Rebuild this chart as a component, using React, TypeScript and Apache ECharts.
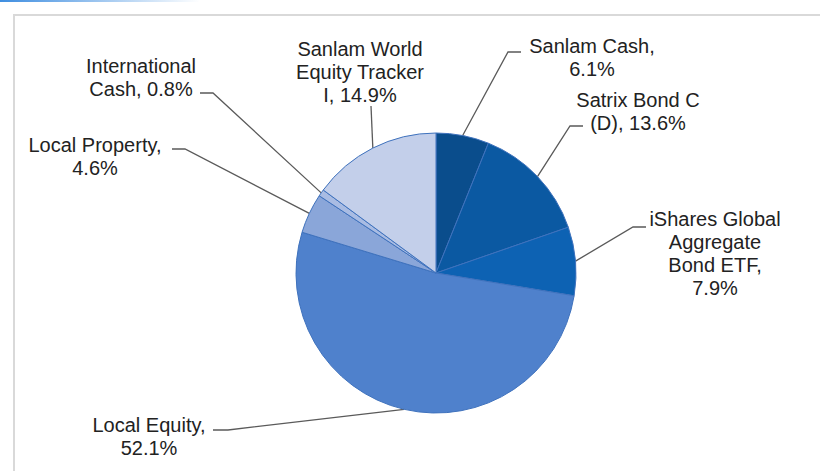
import React, { useEffect, useRef } from "react";
import * as echarts from "echarts";

const categories = [
  "Sanlam Cash",
  "Satrix Bond C (D)",
  "iShares Global Aggregate Bond ETF",
  "Local Equity",
  "Local Property",
  "International Cash",
  "Sanlam World Equity Tracker I",
];
const values = [6.1, 13.6, 7.9, 52.1, 4.6, 0.8, 14.9];
const labelTemplates = [
  "Sanlam Cash,\n{v}%",
  "Satrix Bond C\n(D), {v}%",
  "iShares Global\nAggregate\nBond ETF,\n{v}%",
  "Local Equity,\n{v}%",
  "Local Property,\n{v}%",
  "International\nCash, {v}%",
  "Sanlam World\nEquity Tracker\nI, {v}%",
];
const colors = ["#0a4d8c", "#0b59a2", "#0d62b3", "#4f81cc", "#8aa6d9", "#a9bce3", "#c3cfea"];

// label anchors (center x, top y) and leader knee / end points
const labelPos = [
  { x: 592, y: 34, knee: [508, 52], end: [521, 52] },
  { x: 638, y: 88, knee: [570, 126], end: [583, 126] },
  { x: 715, y: 207, knee: [633, 227], end: [646, 227] },
  { x: 149, y: 413, knee: [228, 430], end: [213, 430] },
  { x: 95, y: 133, knee: [185, 149], end: [172, 149] },
  { x: 141, y: 54, knee: [213, 93], end: [200, 93] },
  { x: 360, y: 37, knee: [371, 106], end: [371, 106] },
];

export default function App() {
  const ref = useRef<HTMLDivElement>(null);
  useEffect(() => {
    if (!ref.current) return;
    const chart = echarts.init(ref.current, null, { renderer: "svg" });
    chart.setOption({
      animation: false,
      backgroundColor: "#ffffff",
      graphic: [
        {
          type: "rect",
          shape: { x: 0, y: 0, width: 200, height: 2 },
          style: {
            fill: new echarts.graphic.LinearGradient(0, 0, 1, 0, [
              { offset: 0, color: "#3f8ee0" },
              { offset: 1, color: "rgba(63,142,224,0)" },
            ]),
          },
          silent: true,
        },
        {
          type: "rect",
          shape: { x: 14, y: 15, width: 900, height: 600 },
          style: { fill: "none", stroke: "#d9d9d9", lineWidth: 2 },
          silent: true,
        },
      ],
      series: [
        {
          type: "pie",
          center: [436, 273],
          radius: 140,
          startAngle: 90,
          clockwise: true,
          avoidLabelOverlap: false,
          data: categories.map((name, i) => ({
            name,
            value: values[i],
            itemStyle: { color: colors[i] },
          })),
          itemStyle: { borderColor: "#3f72bd", borderWidth: 1 },
          label: {
            show: true,
            position: "outside",
            formatter: (p: any) => labelTemplates[p.dataIndex].replace("{v}", values[p.dataIndex].toFixed(1)),
            fontFamily: "Liberation Sans, Arial, sans-serif",
            fontSize: 20,
            lineHeight: 23,
            color: "#222222",
            align: "center",
          },
          labelLine: {
            show: true,
            length: 10,
            length2: 10,
            lineStyle: { color: "#5a5a5a", width: 1.3 },
          },
          labelLayout: (params: any) => {
            const lp = labelPos[params.dataIndex];
            const edge = params.labelLinePoints ? params.labelLinePoints[0] : lp.knee;
            return {
              x: lp.x,
              y: lp.y,
              align: "center",
              verticalAlign: "top",
              labelLinePoints: [edge, lp.knee, lp.end],
            };
          },
        },
      ],
    });
    return () => chart.dispose();
  }, []);
  return (
    <div
      ref={ref}
      style={{ position: "fixed", left: 0, top: 0, width: 820, height: 471 }}
    />
  );
}
